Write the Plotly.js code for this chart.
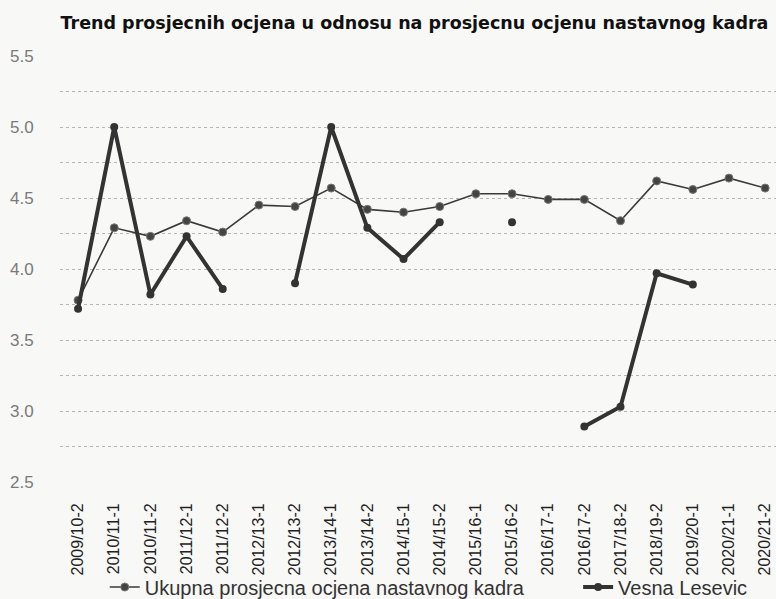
<!DOCTYPE html>
<html>
<head>
<meta charset="utf-8">
<script src="https://cdn.plot.ly/plotly-3.0.1.min.js"></script>
<style>html,body{margin:0;padding:0;background:#f8f8f7;}#chart{width:776px;height:599px;}</style>
</head>
<body>
<div id="chart"></div>
<script>
const categories = ["2009/10-2","2010/11-1","2010/11-2","2011/12-1","2011/12-2","2012/13-1","2012/13-2","2013/14-1","2013/14-2","2014/15-1","2014/15-2","2015/16-1","2015/16-2","2016/17-1","2016/17-2","2017/18-2","2018/19-2","2019/20-1","2020/21-1","2020/21-2"];
const ukupna = [3.78,4.29,4.23,4.34,4.26,4.45,4.44,4.57,4.42,4.40,4.44,4.53,4.53,4.49,4.49,4.34,4.62,4.56,4.64,4.57];
const vesna = [3.72,5.0,3.82,4.23,3.86,null,3.90,5.0,4.29,4.07,4.33,null,4.33,null,2.89,3.03,3.97,3.89,null,null];
const yTickVals = [2.5,2.75,3.0,3.25,3.5,3.75,4.0,4.25,4.5,4.75,5.0,5.25,5.5];
const yTickText = ["2.5","","3.0","","3.5","","4.0","","4.5","","5.0","","5.5"];
const seriesNames = ["Ukupna prosjecna ocjena nastavnog kadra","Vesna Lesevic"];
const titleText = "Trend prosjecnih ocjena u odnosu na prosjecnu ocjenu nastavnog kadra";

const xIdx = categories.map((c,i)=>i);

const traces = [
  {
    x: xIdx, y: ukupna, name: seriesNames[0], type: 'scatter', mode: 'lines+markers',
    line: {color: '#3a3a3a', width: 1.6},
    marker: {color: '#444', size: 8, line: {color: '#777', width: 1}},
    legend: 'legend'
  },
  {
    x: xIdx, y: vesna, name: seriesNames[1], type: 'scatter', mode: 'lines+markers',
    line: {color: '#333', width: 4},
    marker: {color: '#333', size: 8},
    connectgaps: false,
    legend: 'legend2'
  }
];

const legFont = {family: 'Liberation Sans, Arial', size: 20, color: '#333'};

const layout = {
  width: 776, height: 599,
  paper_bgcolor: '#f8f8f7', plot_bgcolor: '#f8f8f7',
  margin: {l: 60, r: 0, t: 56, b: 117, autoexpand: false},
  title: {text: '<b>' + titleText + '</b>', x: 0.078, xanchor: 'left', y: 0.962, yanchor: 'middle',
          font: {family: 'DejaVu Sans', size: 17.5, color: '#111'}},
  xaxis: {
    range: [-0.5, 19.3], tickvals: xIdx, ticktext: categories, tickangle: -90,
    showgrid: false, zeroline: false, showline: false,
    ticks: 'outside', ticklen: 14, tickcolor: 'rgba(0,0,0,0)',
    tickfont: {family: 'Liberation Sans, Arial', size: 16, color: '#222'}
  },
  yaxis: {
    range: [2.5, 5.5], tickvals: yTickVals, ticktext: yTickText,
    showgrid: true, gridcolor: '#b5b5b5', griddash: 'dot', gridwidth: 1,
    zeroline: false, showline: false, ticks: 'outside', ticklen: 22, tickcolor: 'rgba(0,0,0,0)',
    tickfont: {family: 'Liberation Sans, Arial', size: 17, color: '#7a7a7a'}
  },
  showlegend: true,
  legend: {
    orientation: 'h', xref: 'container', yref: 'container',
    x: 0.135, xanchor: 'left', y: 0.02, yanchor: 'middle',
    font: legFont, bgcolor: 'rgba(0,0,0,0)'
  },
  legend2: {
    orientation: 'h', xref: 'container', yref: 'container',
    x: 0.745, xanchor: 'left', y: 0.02, yanchor: 'middle',
    font: legFont, bgcolor: 'rgba(0,0,0,0)'
  }
};

Plotly.newPlot('chart', traces, layout, {displayModeBar: false, staticPlot: true});
</script>
</body>
</html>
